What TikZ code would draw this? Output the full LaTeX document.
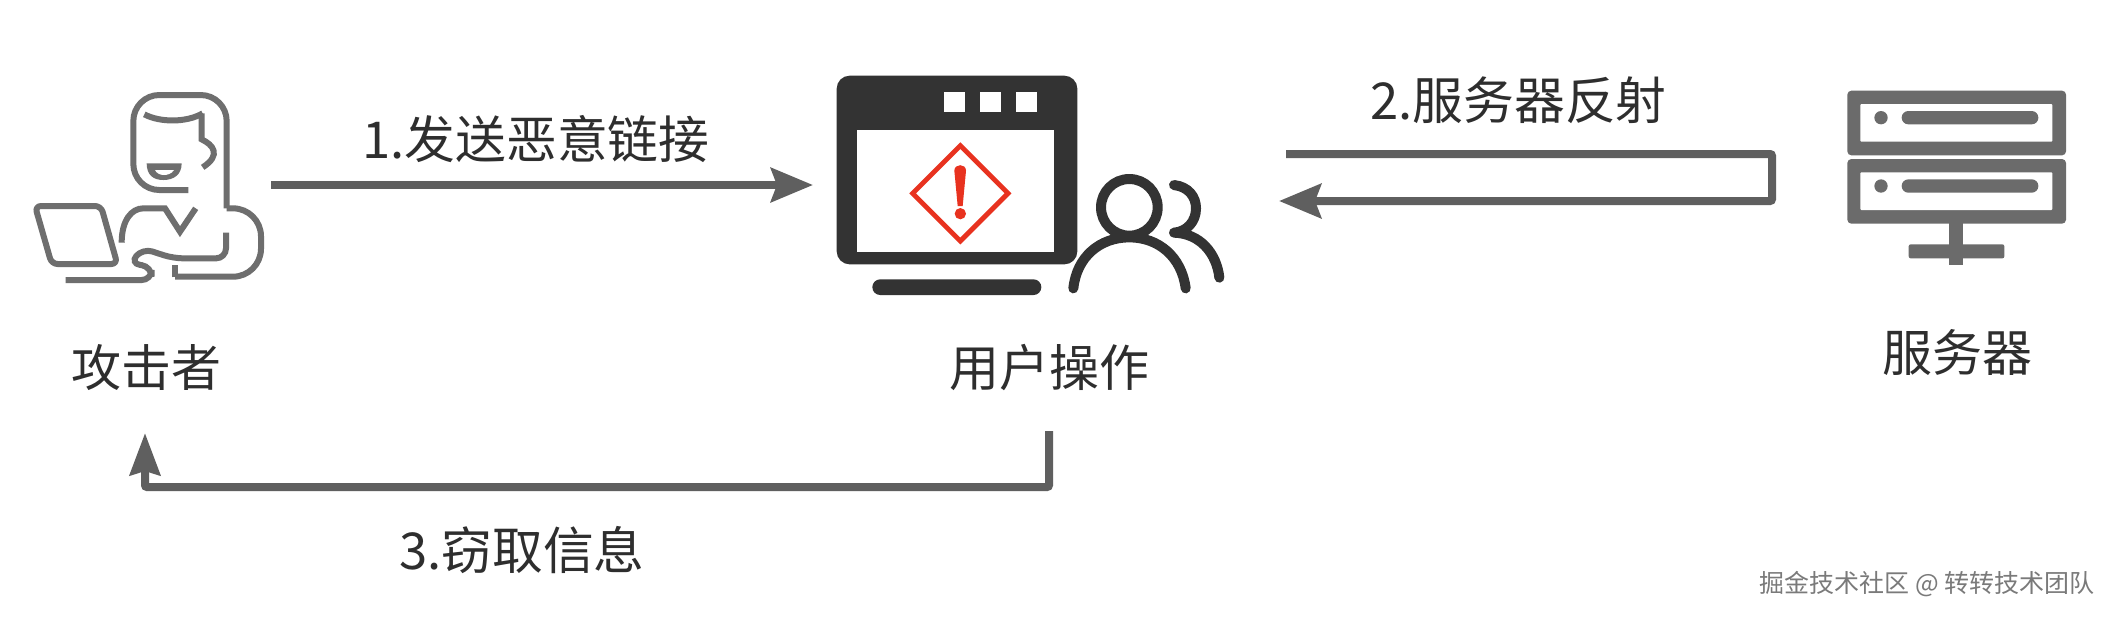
\documentclass[tikz,border=0pt]{standalone}
\usepackage{fontspec}
\setmainfont{Noto Sans CJK SC}
\usetikzlibrary{arrows.meta}
\definecolor{txt}{HTML}{2E2E2E}
\definecolor{icona}{HTML}{6E6E6E}
\definecolor{win}{HTML}{333333}
\definecolor{srv}{HTML}{6B6B6B}
\definecolor{arr}{HTML}{5F5F5F}
\definecolor{warn}{HTML}{E8321F}
\definecolor{mark}{HTML}{7A7A7A}
\tikzset{
  lbl/.style={text=txt,font=\fontsize{25}{28}\selectfont,inner sep=0pt},
  lblb/.style={text=txt,font=\fontsize{25.4}{28}\selectfont,inner sep=0pt},
  wm/.style={text=mark,font=\fontsize{12.5}{14}\selectfont,inner sep=0pt},
  conn/.style={draw=arr,line width=4pt,rounded corners=1pt,-{Stealth[length=21pt,width=17pt,inset=3pt]}},
  connb/.style={draw=arr,line width=4pt,rounded corners=1pt,-{Stealth[length=21pt,width=15pt,inset=2pt]}},
  outl/.style={draw=icona,line width=3pt},
  ppl/.style={draw=win,line width=5pt,line cap=round},
}
\begin{document}
\begin{tikzpicture}[x=0.5pt,y=-0.5pt]
\useasboundingbox (0,0) rectangle (2114,618);
\fill[white] (0,0) rectangle (2114,618);

% attacker icon
\begin{scope}[shift={(0,60)},x=0.16667pt,y=-0.16667pt]
 \draw[outl,rounded corners=13pt] (565,390)--(400,390)--(400,105)--(680,105)--(680,445);
 \draw[outl,rounded corners=14pt] (680,445)--(783,445)--(783,650)--(525,650);
 \draw[outl] (525,652)--(525,615);
 \draw[outl] (433,163).. controls (480,188) and (560,188) .. (608,160);
 \draw[outl] (605,160)--(605,238).. controls (640,255) and (665,285) .. (608,322);
 \fill[icona] (440,310)--(545,310).. controls (545,345) and (520,360) .. (490,360).. controls (460,360) and (440,345) .. (440,310)--cycle;
 \fill[white] (465,330)--(522,330).. controls (515,342) and (500,345) .. (492,345).. controls (480,345) and (470,340) .. (465,330)--cycle;
 \draw[outl] (365,548).. controls (365,480) and (395,445) .. (430,445)--(495,445)--(540,515)--(587,445);
 \draw[outl,rounded corners=5pt] (678,518)--(678,595)--(520,595)--(428,565)--(390,610)--(455,620)--(455,660)--(197,660);
 \draw[outl,rounded corners=3pt,line join=round] (105,438)--(303,438)--(352,612)--(155,612)--cycle;
\end{scope}

% window icon
\begin{scope}[shift={(800,50)},x=0.16667pt,y=-0.16667pt]
 \fill[win,rounded corners=6.5pt] (110,77) rectangle (832,643);
 \fill[white] (172,240) rectangle (762,605);
 \fill[white] (433,125) rectangle (495,187);
 \fill[white] (541,125) rectangle (603,187);
 \fill[white] (649,125) rectangle (711,187);
 \fill[win,rounded corners=3.9pt] (217,688) rectangle (724,735);
 \draw[warn,line width=2.4pt] (481,287)--(624,430)--(481,573)--(338,430)--cycle;
 \fill[warn] (463,362).. controls (463,340) and (498,340) .. (498,362)--(488,468)--(473,468)--cycle;
 \fill[warn] (481,491) circle (17);
 \draw[ppl] (988,472) circle (85);
 \draw[ppl] (820,715).. controls (830,620) and (900,562) .. (988,562).. controls (1075,562) and (1145,620) .. (1157,715);
 \draw[ppl,line join=round] (1122,405).. controls (1165,410) and (1188,440) .. (1188,475).. controls (1188,515) and (1160,545) .. (1122,548).. controls (1200,550) and (1250,610) .. (1258,683);
\end{scope}

% server icon
\begin{scope}[shift={(1780,60)},x=0.16667pt,y=-0.16667pt]
 \fill[srv] (508,480) rectangle (550,615);
 \fill[srv,rounded corners=1pt] (386,553) rectangle (673,595);
 \foreach \d in {0,205}{
  \fill[srv,rounded corners=2pt] (202,92+\d) rectangle (858,286+\d);
  \fill[white,rounded corners=0.5pt] (241,132+\d) rectangle (817,245+\d);
  \fill[srv] (303,173+\d) circle (20);
  \fill[srv,rounded corners=3.3pt] (365,153+\d) rectangle (775,193+\d);
 }
\end{scope}

% labels
\node[lbl] (tAttacker) at (146,368) {攻击者};
\node[lbl] (tUser) at (1049,368) {用户操作};
\node[lbl] (tServer) at (1957,352) {服务器};
\node[lblb] (t1) at (536,139) {1.发送恶意链接};
\node[lblb] (t2) at (1518.5,100) {2.服务器反射};
\node[lblb] (t3) at (522,550) {3.窃取信息};
\node[wm] (wmk) at (1927,584) {掘金技术社区 @ 转转技术团队};

% connectors
\coordinate (a1s) at (271,185);
\coordinate (a1e) at (813,185);
\coordinate (a2s) at (1286,154);
\coordinate (a2a) at (1772,154);
\coordinate (a2b) at (1772,201);
\coordinate (a2e) at (1279,201);
\coordinate (a3s) at (1049,431);
\coordinate (a3a) at (1049,487);
\coordinate (a3b) at (145,487);
\coordinate (a3e) at (145,433);
\draw[conn] (a1s)--(a1e);
\draw[conn] (a2s)--(a2a)--(a2b)--(a2e);
\draw[connb] (a3s)--(a3a)--(a3b)--(a3e);
\end{tikzpicture}
\end{document}
